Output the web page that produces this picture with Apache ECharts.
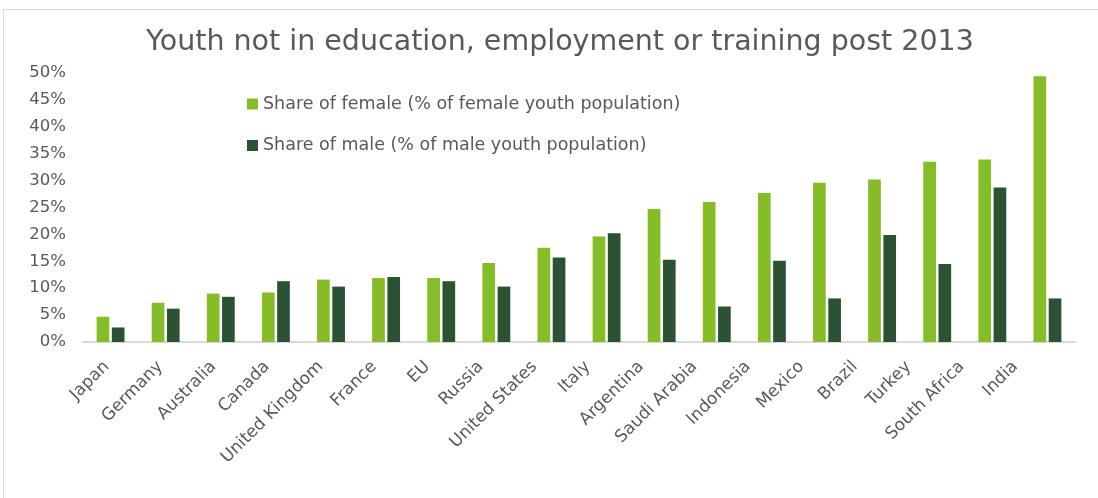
<!DOCTYPE html>
<html>
<head>
<meta charset="utf-8">
<script src="https://cdn.jsdelivr.net/npm/echarts@6/dist/echarts.min.js"></script>
<style>
    html, body { margin: 0; padding: 0; background: #fff; }
    #frame { position: absolute; left: 3px; top: 9px; width: 1100px; height: 500px; border: 1px solid #d9d9d9; box-sizing: border-box; }
    #echarts { position: absolute; left: 0; top: 0; width: 1098px; height: 498px; }
</style>
</head>
<body>
<div id="frame"></div>
<div id="echarts"></div>
<script>
// countries, low to high female share
var countries = ['Japan', 'Germany', 'Australia', 'Canada', 'United Kingdom', 'France', 'EU', 'Russia',
    'United States', 'Italy', 'Argentina', 'Saudi Arabia', 'Indonesia', 'Mexico', 'Brazil', 'Turkey',
    'South Africa', 'India'];
// % of female youth population
var femaleShare = [4.7, 7.3, 9.0, 9.2, 11.6, 11.9, 11.9, 14.7, 17.5, 19.6, 24.7, 26.0, 27.7, 29.6, 30.2, 33.5, 33.9, 49.4];
// % of male youth population
var maleShare = [2.7, 6.2, 8.4, 11.3, 10.3, 12.1, 11.3, 10.3, 15.7, 20.2, 15.3, 6.6, 15.1, 8.1, 19.9, 14.5, 28.7, 8.1];
var seriesNames = ['Share of female (% of female youth population)', 'Share of male (% of male youth population)'];

var textColor = '#595959';
var fontFam = 'DejaVu Sans, Verdana, sans-serif';

var myChart = echarts.init(document.getElementById('echarts'));
var option = {
    backgroundColor: 'transparent',
    color: ['#86bc25', '#2c5234'],
    title: {
        text: 'Youth not in education, employment or training post 2013',
        left: 555,
        textAlign: 'center',
        top: 23,
        textStyle: {
            color: textColor,
            fontFamily: fontFam,
            fontWeight: 'normal',
            fontSize: 28.5
        }
    },
    legend: {
        orient: 'vertical',
        left: 242,
        top: 90,
        itemWidth: 11,
        itemHeight: 11,
        itemGap: 23.5,
        icon: 'rect',
        textStyle: {
            color: textColor,
            fontFamily: fontFam,
            fontSize: 17.5
        },
        data: seriesNames
    },
    grid: [
        {
            left: 83,
            right: 23,
            top: 73,
            bottom: 156
        },
        // labels only, spaced a little tighter like the original
        {
            left: 80,
            right: 56,
            top: 73,
            bottom: 156
        }
    ],
    xAxis: [
        {
            type: 'category',
            gridIndex: 0,
            data: countries,
            axisLine: {
                lineStyle: { color: '#d9d9d9', width: 2 }
            },
            axisTick: { show: false },
            axisLabel: { show: false }
        },
        {
            type: 'category',
            gridIndex: 1,
            data: countries,
            axisLine: { show: false },
            axisTick: { show: false },
            axisLabel: {
                rotate: 45,
                interval: 0,
                margin: 22,
                color: textColor,
                fontFamily: fontFam,
                fontSize: 17
            }
        }
    ],
    yAxis: [
        {
            type: 'value',
            gridIndex: 0,
            min: 0,
            max: 50,
            interval: 5,
            axisLine: { show: false },
            axisTick: { show: false },
            splitLine: { show: false },
            axisLabel: {
                formatter: '{value}%',
                margin: 17,
                color: textColor,
                fontFamily: fontFam,
                fontSize: 16.5
            }
        },
        {
            type: 'value',
            gridIndex: 1,
            min: 0,
            max: 50,
            show: false
        }
    ],
    series: [
        {
            name: seriesNames[0],
            type: 'bar',
            barWidth: '23%',
            barGap: '20%',
            data: femaleShare
        },
        {
            name: seriesNames[1],
            type: 'bar',
            barWidth: '23%',
            barGap: '20%',
            data: maleShare
        }
    ]
};
myChart.setOption(option);
</script>
</body>
</html>
